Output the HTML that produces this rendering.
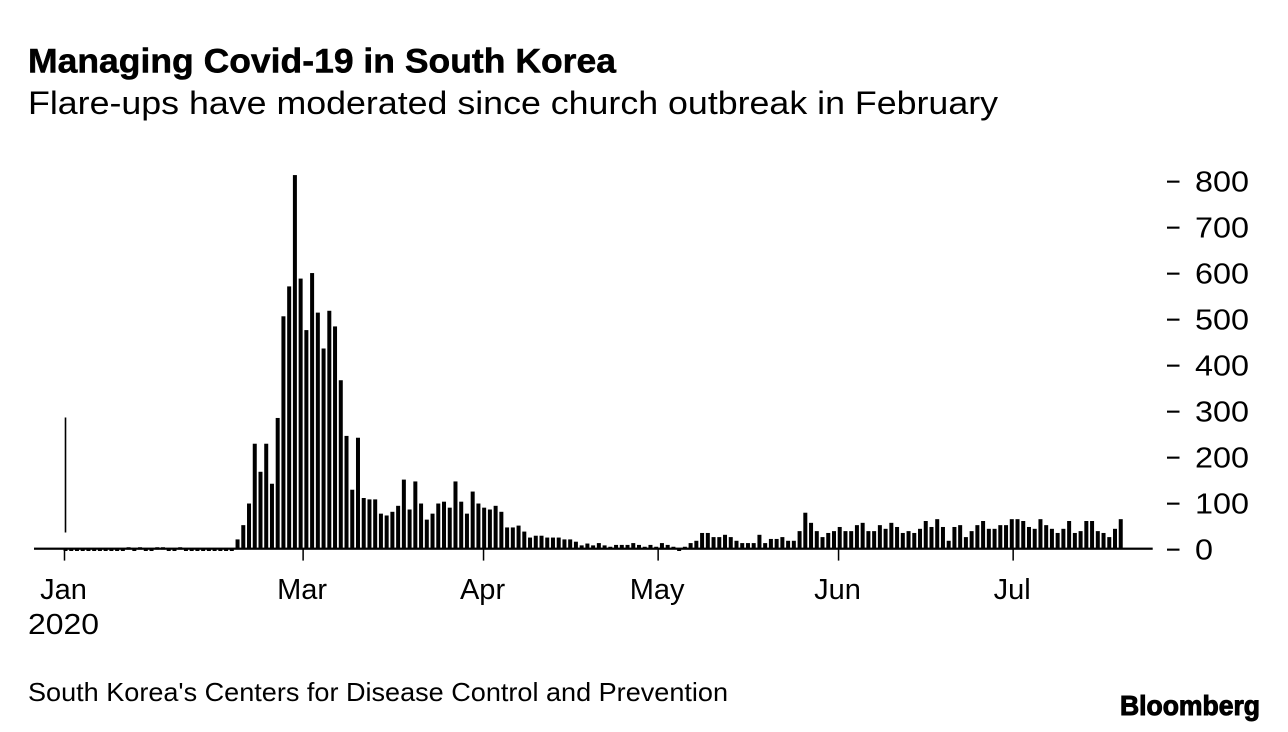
<!DOCTYPE html>
<html lang="en">
<head>
<meta charset="utf-8">
<title>Managing Covid-19 in South Korea</title>
<style>
  html, body { margin: 0; padding: 0; background: #fff; }
  body { width: 1288px; height: 732px; overflow: hidden; }
  svg { display: block; font-family: "Liberation Sans", Arial, sans-serif; }
  text { fill: #000; }
</style>
</head>
<body>
<svg id="chart" width="1288" height="732" viewBox="0 0 1288 732" xmlns="http://www.w3.org/2000/svg">
  <rect x="0" y="0" width="1288" height="732" fill="#fff"/>
  <text x="28" y="72.5" font-size="34.5" font-weight="700" stroke="#000" stroke-width="0.5" textLength="588" lengthAdjust="spacingAndGlyphs">Managing Covid-19 in South Korea</text>
  <text x="28" y="114" font-size="32" textLength="970" lengthAdjust="spacingAndGlyphs">Flare-ups have moderated since church outbreak in February</text>
  <g id="bars"></g>
  <g id="x-axis"></g>
  <g id="y-axis"></g>
  <text x="28" y="701" font-size="26" textLength="700" lengthAdjust="spacingAndGlyphs">South Korea's Centers for Disease Control and Prevention</text>
  <text x="1120" y="715" font-size="27.5" font-weight="700" stroke="#000" stroke-width="1" textLength="140" lengthAdjust="spacingAndGlyphs">Bloomberg</text>
</svg>
<script>
// Daily new cases, first bar = Jan 20 2020
var dailyCases = [
  0,0,0,0,0,0,0,0,0,0,
  0,3,0,3,0,0,3,3,0,0,
  3,0,0,0,0,0,0,0,0,0,
  20,51,98,228,167,228,141,284,505,570,
  812,587,475,599,513,435,517,483,366,245,
  128,241,110,107,107,76,72,80,93,150,
  85,146,98,63,76,98,102,89,146,102,
  76,124,98,89,85,93,80,46,46,50,
  37,24,28,28,24,24,24,20,20,15,
  7,11,7,12,7,4,8,8,8,12,
  8,4,8,4,12,8,4,-2,4,12,
  17,34,34,25,25,30,25,17,12,12,
  12,30,12,21,21,25,17,17,38,78,
  56,38,25,34,38,47,38,38,51,56,
  38,38,51,43,56,47,34,38,34,43,
  60,47,64,47,17,47,51,25,38,51,
  60,43,43,51,51,64,64,60,47,43,
  64,51,43,34,43,60,34,38,60,60,
  38,34,25,43,64
];
var yTickValues = [0, 100, 200, 300, 400, 500, 600, 700, 800];
var monthLabels = ["Jan", "Mar", "Apr", "May", "Jun", "Jul"];
var monthDayOffsets = [0, 41, 72, 102, 133, 163];
var yearLabel = "2020";
var annotationRange = [35, 285];

var SVG_NS = "http://www.w3.org/2000/svg";
var BASELINE = 548.6, PX_PER_CASE = 0.46;
function yScale(v) { return BASELINE - v * PX_PER_CASE; }
function barX(i) { return 65.5 + i * 5.735; }
function dateX(d) { return 64.5 + d * 5.82; }
function make(tag, attrs, parent) {
  var el = document.createElementNS(SVG_NS, tag);
  for (var k in attrs) { el.setAttribute(k, attrs[k]); }
  parent.appendChild(el);
  return el;
}

var barsGroup = document.getElementById("bars");
var xGroup = document.getElementById("x-axis");
var yGroup = document.getElementById("y-axis");

dailyCases.forEach(function (v, i) {
  var top = yScale(v);
  var h = Math.max(BASELINE - top, 2.4);
  var bar = make("rect", { x: barX(i) - 2, y: v < 0 ? BASELINE : top, width: 4, height: h, fill: "#000" }, barsGroup);
  
  
});

var annotation = make("rect", { x: barX(0) - 0.8, y: yScale(annotationRange[1]), width: 1.6, height: yScale(annotationRange[0]) - yScale(annotationRange[1]), fill: "#000" }, barsGroup);



var axisLine = make("rect", { x: 34, y: BASELINE - 1, width: 1118.7, height: 2.2, fill: "#000" }, xGroup);



monthLabels.forEach(function (label, i) {
  var x = dateX(monthDayOffsets[i]);
  var tick = make("rect", { x: x - 0.75, y: BASELINE, width: 1.5, height: 12, fill: "#000" }, xGroup);
  
  
  var text = make("text", { x: x - 1, y: 599, "font-size": 29, "text-anchor": "middle" }, xGroup);
  
  
  text.textContent = label;
});

var yearText = make("text", { x: 28, y: 634, "font-size": 29, textLength: 71, lengthAdjust: "spacingAndGlyphs" }, xGroup);


yearText.textContent = yearLabel;

yTickValues.forEach(function (v) {
  var y = yScale(v) + 1;
  var label = String(v);
  var tick = make("rect", { x: 1167, y: y - 1, width: 12.5, height: 2.1, fill: "#000" }, yGroup);
  
  
  var text = make("text", { x: 1195, y: y + 9.8, "font-size": 29, textLength: label.length * 18, lengthAdjust: "spacingAndGlyphs" }, yGroup);
  
  
  text.textContent = label;
});
</script>
</body>
</html>
